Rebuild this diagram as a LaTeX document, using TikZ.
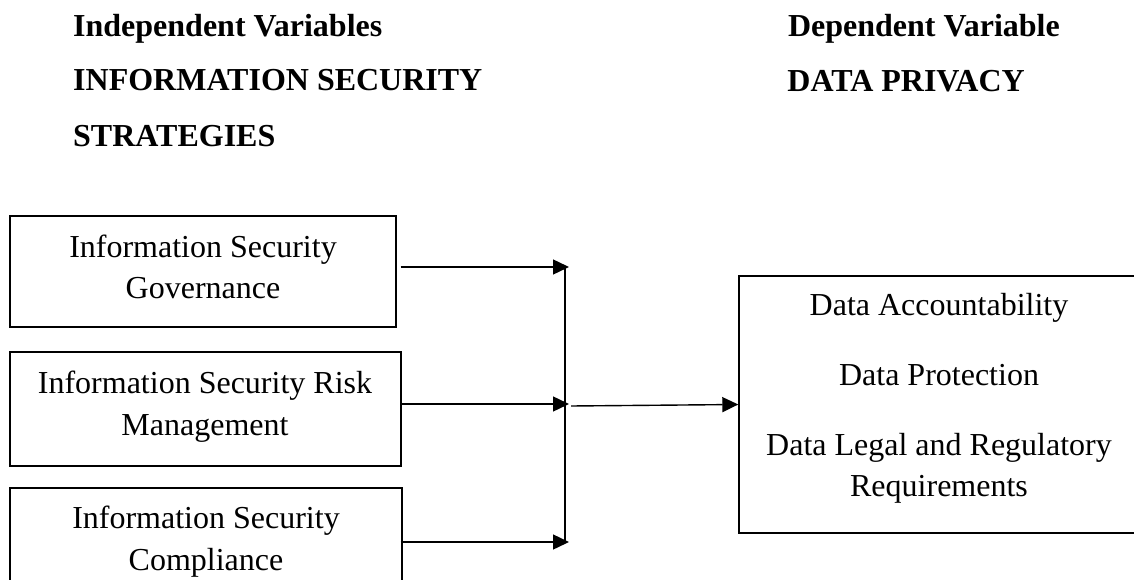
\documentclass[tikz,border=0pt]{standalone}
\usepackage{fontspec}
\setmainfont{Liberation Serif}
\usetikzlibrary{arrows.meta}
\begin{document}
\begin{tikzpicture}[x=1pt,y=-1pt,
  box/.style={draw,line width=1.4pt,inner sep=0pt},
  txt/.style={font=\fontsize{32}{38}\selectfont,anchor=base,inner sep=0pt},
  head/.style={font=\fontsize{32}{38}\selectfont\bfseries,inner sep=0pt},
  link/.style={line width=1.4pt},
  arr/.style={line width=1.4pt,-{Triangle[length=16pt,width=15pt]}}]
\useasboundingbox (0,0) rectangle (1134,580);
\clip (0,0) rectangle (1134,580);

% headings
\node[head,anchor=base west] (hind) at (73,37) {Independent Variables};
\node[head,anchor=base west] (hsec) at (73,91) {INFORMATION SECURITY};
\node[head,anchor=base west] (hstr) at (73,147) {STRATEGIES};
\node[head,anchor=base east] (hdep) at (1060,37) {Dependent Variable};
\node[head,anchor=base east] (hpri) at (1025,92) {DATA PRIVACY};

% independent variable boxes
\node[box,minimum width=386pt,minimum height=111pt] (gov) at (203,271.5) {};
\node[txt] (gov1) at (203,257) {Information Security};
\node[txt] (gov2) at (203,298) {Governance};

\node[box,minimum width=391pt,minimum height=114pt] (risk) at (205.5,409) {};
\node[txt] (risk1) at (205,393) {Information Security Risk};
\node[txt] (risk2) at (205,435) {Management};

\node[box,minimum width=392pt,minimum height=112pt] (comp) at (206,544) {};
\node[txt] (comp1) at (206,528) {Information Security};
\node[txt] (comp2) at (206,570) {Compliance};

% dependent variable box
\node[box,minimum width=403pt,minimum height=257pt] (priv) at (940.5,404.5) {};
\node[txt] (priv1) at (939,315) {Data Accountability};
\node[txt] (priv2) at (939,385) {Data Protection};
\node[txt] (priv3) at (939,455) {Data Legal and Regulatory};
\node[txt] (priv4) at (939,496) {Requirements};

% connectors
\coordinate (t1) at (569,267);
\coordinate (t2) at (569,404);
\coordinate (t3) at (569,542);
\coordinate (jt) at (565,267);
\coordinate (jb) at (565,542);
\coordinate (jo) at (571,406);

\draw[arr,shorten <=4pt] (gov.east |- t1) -- (t1);
\draw[arr] (risk.east |- t2) -- (t2);
\draw[arr,shorten <=-2pt] (comp.east |- t3) -- (t3);
\draw[link] (jt) -- (jb);
\draw[arr] (jo) -- (priv.west);
\end{tikzpicture}
\end{document}
